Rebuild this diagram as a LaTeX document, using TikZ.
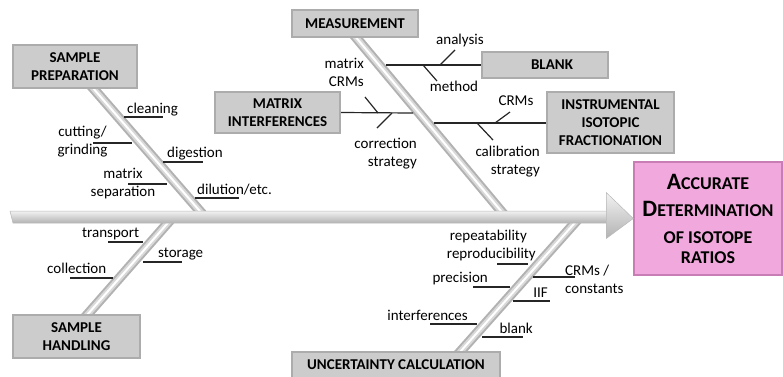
\documentclass[tikz,border=0pt]{standalone}
\usepackage{fontspec}
\setmainfont{Carlito}
\usetikzlibrary{calc,backgrounds}

\definecolor{effectpink}{RGB}{241,168,220}
\definecolor{effectedge}{RGB}{200,125,180}
\newcommand\initcap[1]{{\fontsize{23.5}{27}\selectfont #1}}

\begin{document}
\begin{tikzpicture}[x=1pt, y=-1pt, font=\fontsize{15}{18}\selectfont]
\tikzset{causebox/.style={draw=gray!65, line width=2pt, fill=gray!40, inner sep=0pt,
  align=center, font=\fontsize{15}{18}\selectfont\bfseries}}
\tikzset{bone/.style={line width=10pt, draw=gray!60,
  postaction={draw=gray!30, line width=6pt}, postaction={draw=white, line width=2pt}}}
\tikzset{twig/.style={line width=1.2pt, draw=black!85}}
\tikzset{lbl/.style={inner sep=0pt}}

\useasboundingbox (0,0) rectangle (783,376);

% Cause boxes
\node[causebox, minimum width=124pt, minimum height=43pt] (prep) at (75,66.5) {SAMPLE\\PREPARATION};
\node[causebox, minimum width=127pt, minimum height=43pt] (hand) at (76.5,336.5) {SAMPLE\\HANDLING};
\node[causebox, minimum width=126pt, minimum height=27pt] (meas) at (355,23.5) {MEASUREMENT};
\node[causebox, minimum width=126pt, minimum height=26pt] (blank) at (545,65) {\hspace{14pt}BLANK};
\node[causebox, minimum width=125pt, minimum height=41pt] (matrix) at (277.5,112.5) {MATRIX\\INTERFERENCES};
\node[causebox, minimum width=127pt, minimum height=61pt] (iif) at (610.5,122.5)
  {INSTRUMENTAL\\ISOTOPIC\\FRACTIONATION};
\node[causebox, minimum width=208pt, minimum height=26pt] (unc) at (396,365) {UNCERTAINTY CALCULATION};

% Effect
\node[draw=effectedge, line width=1.5pt, fill=effectpink, minimum width=148pt, minimum height=113pt,
  inner sep=0pt, align=center, font=\bfseries\fontsize{18}{27}\selectfont] (effect) at (708,218.5)
  {\initcap{A}CCURATE\\\initcap{D}ETERMINATION\\OF ISOTOPE\\[-7pt]RATIOS};

% Spine
\coordinate (tail) at (10,217);
\coordinate (headbase) at (607,217);
\shade[top color=gray!10, bottom color=gray!60, draw=gray!55, line width=.5pt]
  ($(tail)+(0,-6)$) -- ($(headbase)+(0,-6)$) -- ($(headbase)+(0,6)$) -- ($(tail)+(3,6)$) -- cycle;
\shade[top color=gray!10, bottom color=gray!60, draw=gray!55, line width=.5pt]
  ($(effect.west)+(-27,-26)$) -- (effect.west) -- ($(effect.west)+(-27,20)$) -- cycle;

% Bones
\coordinate (jprep) at (205,217);
\coordinate (jhand) at (173,217);
\coordinate (jmeas) at (506,217);
\coordinate (junc) at (580,217);
\coordinate (eprep) at (86,80);
\coordinate (ehand) at (80,323);
\coordinate (emeas) at (349,29);
\coordinate (eunc) at (452,361);
\begin{scope}[on background layer]
\draw[bone] (eprep) -- (jprep);
\draw[bone] (jhand) -- (ehand);
\draw[bone] (emeas) -- (jmeas);
\draw[bone] (junc) -- (eunc);
\end{scope}

% Blank branch
\coordinate (bl0) at (386,65);
\coordinate (bl1) at (440,65);
\coordinate (bl2) at (423,65);
\draw[twig] (bl0) -- (blank.west);
\draw[twig] (bl1) -- ++(15,-15);
\draw[twig] (bl2) -- ++(14,16);
\node[lbl, anchor=base] (analysis) at (460,44) {analysis};
\node[lbl, anchor=base] (method) at (454,91) {method};

% Matrix branch
\coordinate (mx0) at (413,113);
\coordinate (mx1) at (378,113);
\coordinate (mx2) at (392,113);
\draw[twig] (matrix.east) -- (mx0);
\draw[twig] (mx1) -- ++(-13,-16);
\draw[twig] (mx2) -- ++(-15,15);
\node[lbl, anchor=east, align=right] (mxcrm) at (364,72.5) {matrix\\CRMs};
\node[lbl, anchor=east, align=right] (corr) at (417,154) {correction\\strategy};

% IIF branch
\coordinate (if0) at (434,123);
\coordinate (if1) at (495,123);
\coordinate (if2) at (477,123);
\draw[twig] (if0) -- (iif.west |- if0);
\draw[twig] (if1) -- ++(15,-11);
\draw[twig] (if2) -- ++(16,17);
\node[lbl, anchor=base] (crms) at (516,105) {CRMs};
\node[lbl, anchor=east, align=right] (calib) at (540,162) {calibration\\strategy};

% Sample preparation
\node[lbl, anchor=base west] (clean) at (127,113) {cleaning};
\node[lbl, align=center] (cut) at (82.5,142) {cutting/\\grinding};
\node[lbl, anchor=base west] (dig) at (167,157) {digestion};
\node[lbl, align=center] (sep) at (123,183.5) {matrix\\separation};
\node[lbl, anchor=base west] (dil) at (197,194) {dilution/etc.};
\draw[twig] (124,117) coordinate (pp1) -- ++(39,0);
\draw[twig] (93,143) coordinate (pp2) -- ++(39,0);
\draw[twig] (163,162) coordinate (pp3) -- ++(40,0);
\draw[twig] (128,184) coordinate (pp4) -- ++(39,0);
\draw[twig] (195,198) coordinate (pp5) -- ++(44,0);

% Sample handling
\node[lbl, anchor=base west] (trans) at (82,237) {transport};
\node[lbl, anchor=base west] (stor) at (158,257) {storage};
\node[lbl, anchor=base west] (coll) at (47,273) {collection};
\draw[twig] (108,242) coordinate (hh1) -- ++(35,0);
\draw[twig] (143,262) coordinate (hh2) -- ++(39,0);
\draw[twig] (70,278) coordinate (hh3) -- ++(43,0);

% Uncertainty
\node[lbl, anchor=base east] (rep) at (527,240) {repeatability};
\node[lbl, anchor=base east] (repro) at (536,258) {reproducibility};
\node[lbl, anchor=base east] (prec) at (488,282) {precision};
\node[lbl, anchor=west, align=left] (crmc) at (565,279) {CRMs /\\constants};
\node[lbl, anchor=base east] (iiflbl) at (548,297.5) {IIF};
\node[lbl, anchor=base east] (interf) at (468,320) {interferences};
\node[lbl, anchor=base east] (blk) at (533,333) {blank};
\draw[twig] (497,264) coordinate (uu1) -- ++(31,0);
\draw[twig] (473,287) coordinate (uu2) -- ++(37,0);
\draw[twig] (533,277) coordinate (uu3) -- ++(42,0);
\draw[twig] (513,301) coordinate (uu4) -- ++(37,0);
\draw[twig] (430,324) coordinate (uu5) -- ++(47,0);
\draw[twig] (482,337) coordinate (uu6) -- ++(41,0);

\end{tikzpicture}
\end{document}
